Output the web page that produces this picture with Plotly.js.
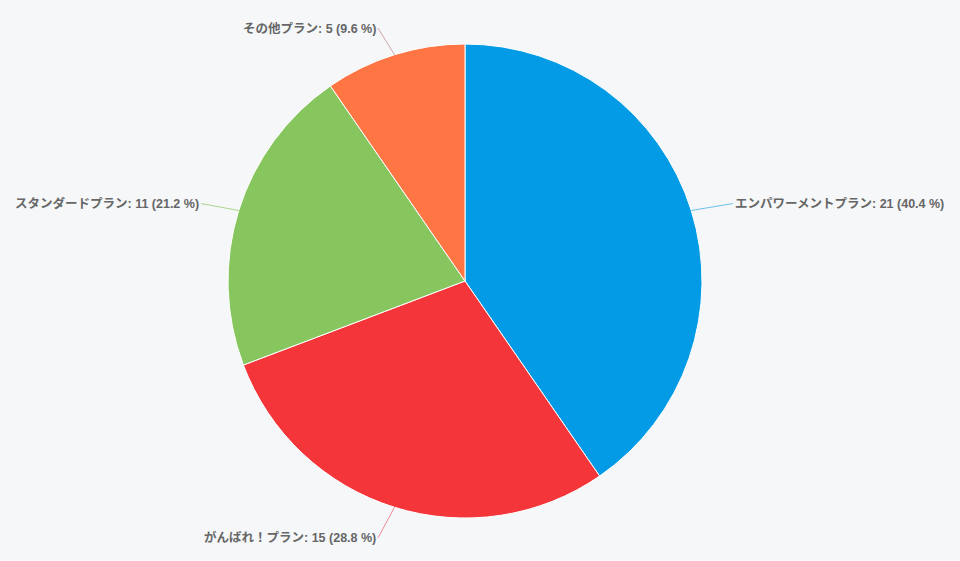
<!DOCTYPE html>
<html>
<head>
<meta charset="utf-8">
<script src="https://cdn.plot.ly/plotly-3.0.1.min.js"></script>
<style>
  html, body { margin: 0; padding: 0; background: #f5f7f9; }
  #chart { width: 960px; height: 561px; }
</style>
</head>
<body>
<div id="chart"></div>
<script>
// plan names and counts, in drawing order (clockwise from 12 o'clock)
const plans = ['エンパワーメントプラン', 'がんばれ！プラン', 'スタンダードプラン', 'その他プラン'];
const counts = [21, 15, 11, 5];
const colors = ['#039be5', '#f4363b', '#87c65e', '#ff7644'];
const lineColors = ['#6fbfee', '#f08a95', '#a9d68e', '#cfa5a5'];

(function () {
  'use strict';

  const W = 960, H = 561;
  const margin = { l: 0, r: 30, t: 44, b: 43 };
  const plotW = W - margin.l - margin.r;
  const plotH = H - margin.t - margin.b;
  const radius = Math.min(plotW, plotH) / 2;
  const cx = plotW / 2, cy = plotH / 2;

  const total = counts.reduce((a, b) => a + b, 0);

  const trace = {
    type: 'pie',
    labels: plans,
    values: counts,
    sort: false,
    direction: 'clockwise',
    rotation: 0,
    textinfo: 'none',
    hoverinfo: 'label+value+percent',
    marker: { colors: colors, line: { color: '#ffffff', width: 1 } },
    showlegend: false,
  };

  // outside labels: leader goes radially out from the slice middle, then sideways
  const annotations = [];
  let cum = 0;
  counts.forEach((v, i) => {
    const mid = (cum + v / 2) / total * 2 * Math.PI;
    cum += v;
    const sx = Math.sin(mid), cs = Math.cos(mid);
    const px = cx + radius * sx;
    const py = cy - radius * cs;
    const right = sx >= 0;
    const pct = (v / total * 100).toFixed(1);
    annotations.push({
      xref: 'paper', yref: 'paper',
      x: px / plotW, y: 1 - py / plotH,
      text: plans[i] + ': ' + v + ' (' + pct + ' %)',
      showarrow: true,
      arrowhead: 0,
      arrowwidth: 1,
      arrowcolor: lineColors[i],
      ax: sx * 32 + (right ? 11 : -7),
      ay: -cs * 30 + 2,
      xanchor: right ? 'left' : 'right',
      yanchor: 'middle',
      font: { size: 12.5, color: '#666666', family: '"Liberation Sans", "Noto Sans CJK JP", sans-serif', weight: 700 },
    });
  });

  const layout = {
    width: W,
    height: H,
    paper_bgcolor: '#f5f7f9',
    plot_bgcolor: '#f5f7f9',
    margin: margin,
    showlegend: false,
    annotations: annotations,
  };

  Plotly.newPlot('chart', [trace], layout, { displayModeBar: false, staticPlot: true });
})();
</script>
</body>
</html>
